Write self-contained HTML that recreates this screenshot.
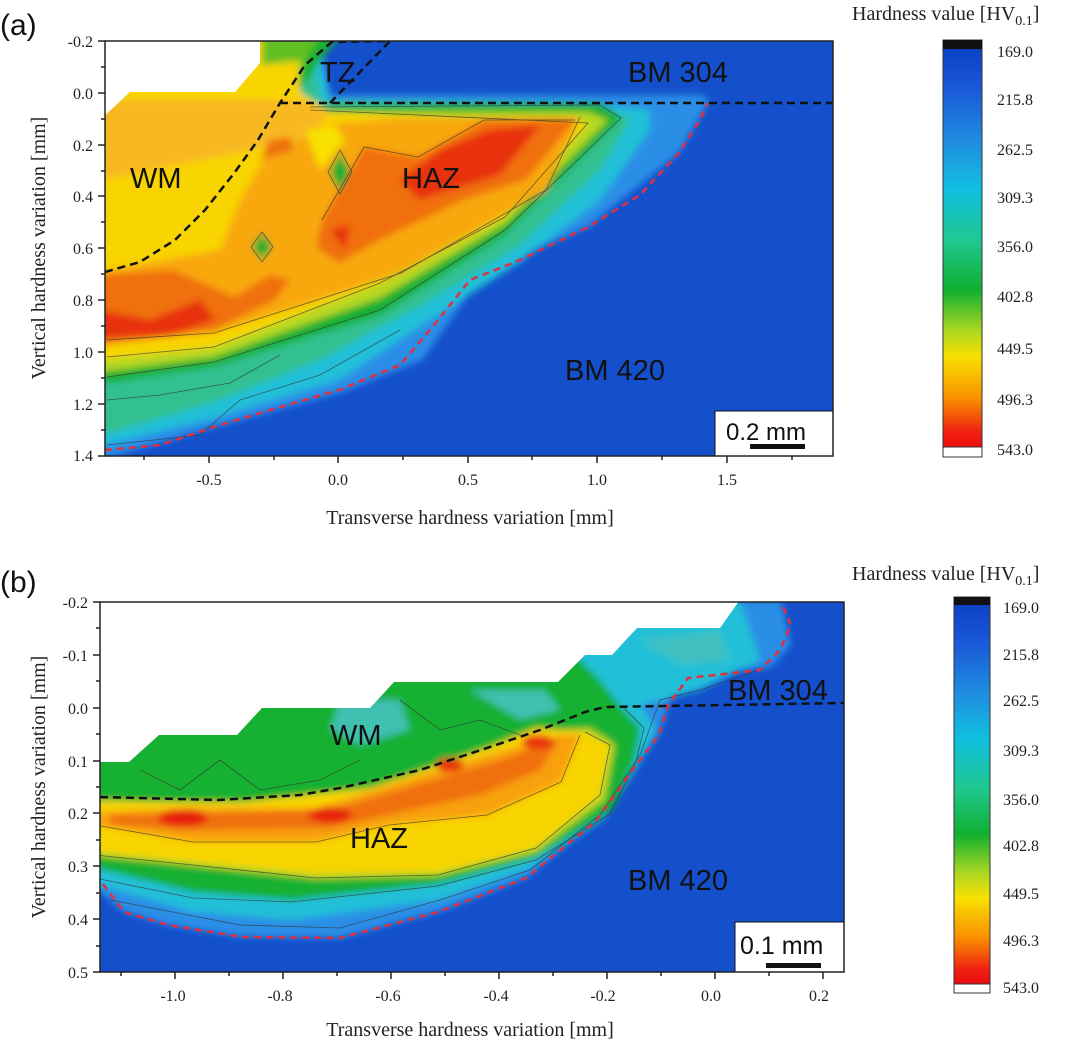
<!DOCTYPE html>
<html><head><meta charset="utf-8"><style>
html,body{margin:0;padding:0;background:#fff;width:1080px;height:1045px;overflow:hidden}
svg{display:block}
.t{font-family:"Liberation Serif",serif;font-size:16px;fill:#222}
.ax{font-family:"Liberation Serif",serif;font-size:20px;fill:#222}
.lb{font-family:"Liberation Sans",sans-serif;font-size:29px;fill:#111}
</style></head><body>
<svg width="1080" height="1045" viewBox="0 0 1080 1045" xmlns="http://www.w3.org/2000/svg">
<defs>
<filter id="bl" x="-5%" y="-5%" width="110%" height="110%"><feGaussianBlur stdDeviation="3.5"/></filter>
<clipPath id="ca"><rect x="105" y="41" width="728" height="415"/></clipPath>
<clipPath id="cb"><rect x="100" y="602" width="744" height="370"/></clipPath>
<linearGradient id="cg" x1="0" y1="0" x2="0" y2="1">
<stop offset="0" stop-color="#0a3cc0"/><stop offset="0.12" stop-color="#1a5ad8"/>
<stop offset="0.25" stop-color="#2090e0"/><stop offset="0.36" stop-color="#10c0e0"/>
<stop offset="0.48" stop-color="#20c890"/><stop offset="0.6" stop-color="#10b030"/>
<stop offset="0.7" stop-color="#b0d820"/><stop offset="0.76" stop-color="#f8e000"/>
<stop offset="0.86" stop-color="#f89000"/><stop offset="0.94" stop-color="#f02010"/>
<stop offset="1" stop-color="#e80010"/>
</linearGradient>
</defs>

<text x="0" y="35" style="font-family:'Liberation Sans',sans-serif;font-size:30px;fill:#111">(a)</text>
<text x="0" y="592" style="font-family:'Liberation Sans',sans-serif;font-size:30px;fill:#111">(b)</text>

<!-- PANEL A -->
<g clip-path="url(#ca)">
<rect x="105" y="41" width="728" height="415" fill="#1450cc"/>
<g filter="url(#bl)">
<polygon fill="#2c8ee6" points="100,460 214,427 339,393 422,360 484,273 588,227 679,153 708,103 705,95 330,95 320,30 100,30"/>
<polygon fill="#22c0d8" points="100,446 214,418 339,380 430,320 520,262 600,200 650,130 650,110 600,105 330,100 315,30 100,30"/>
<polygon fill="#30c090" points="100,436 214,402 320,360 430,300 520,245 600,170 630,120 600,103 320,100 310,30 100,30"/>
<polygon fill="#18b030" points="100,384 214,367 380,315 505,235 621,118 600,103 310,107 297,93 339,36 100,36"/>
<polygon fill="#b8d820" points="100,372 214,357 380,298 505,224 608,120 588,112 310,112 294,93 310,36 100,36"/>
<polygon fill="#f8d400" points="100,360 214,347 380,283 505,217 588,123 330,112 300,92 295,36 100,36"/>
<polygon fill="#f8a810" points="100,345 214,333 401,273 546,190 580,117 400,118 314,125 300,140 270,150 240,200 220,250 107,270 100,270"/>
<polygon fill="#f8b820" points="100,100 300,100 330,112 300,140 200,160 100,180"/>
<polygon fill="#f07010" points="322,220 364,147 418,157 484,120 575,120 526,180 463,200 380,240 339,263 316,247"/>
<polygon fill="#f07010" points="100,275 173,270 235,297 270,275 290,280 275,300 214,330 100,345"/>
<polygon fill="#e83010" points="440,150 490,130 540,125 500,175 450,190 420,200 400,180"/>
<polygon fill="#e83010" points="100,310 150,320 200,300 215,320 170,335 100,338"/>
<polygon fill="#f07010" points="270,140 290,137 294,150 260,160"/>
<polygon fill="#e83010" points="330,230 350,225 345,250"/>
<polygon fill="#1aae30" points="340,152 350,172 340,192 330,172"/>
<polygon fill="#1aae30" points="262,233 272,247 262,260 252,247"/>
<polygon fill="#f8e000" points="305,130 335,125 345,140 320,170"/>
<polygon fill="#60c020" points="262,36 320,36 305,60 262,65"/>
</g>
<g fill="none" stroke="#333" stroke-width="0.8" opacity="0.7">
<polyline points="107,377 214,362 380,310 505,230 621,118 600,105 310,107"/>
<polyline points="107,357 214,347 380,283 505,217 588,123 310,110"/>
<polyline points="107,340 214,333 401,273 546,190 580,117"/>
<polyline points="322,220 364,147 418,157 484,120 575,120"/>
<polyline points="107,400 160,395 230,383 280,355"/>
<polyline points="107,445 200,435 240,400 320,375 400,330"/>
<polygon points="340,150 352,172 340,194 328,172"/>
<polygon points="262,232 273,247 262,262 251,247"/>
</g>
<polygon fill="#fff" points="100,36 260,36 260,63 235,92 130,92 100,120"/>
<polyline fill="none" stroke="#111" stroke-width="2.5" stroke-dasharray="8,5" points="105,272 140,262 175,240 205,210 235,172 258,140 280,103 305,65 333,41"/>
<polyline fill="none" stroke="#111" stroke-width="2.5" stroke-dasharray="8,5" points="280,103 833,103"/>
<polyline fill="none" stroke="#111" stroke-width="2.5" stroke-dasharray="8,5" points="330,103 390,41 333,42"/>
<polyline fill="none" stroke="#e03040" stroke-width="2.5" stroke-dasharray="7,5" points="105,450 160,445 214,427 270,410 339,390 400,365 430,330 470,280 520,260 588,227 640,195 679,153 700,120 708,103"/>
<rect x="715" y="411" width="120" height="46" fill="#fff" stroke="#111" stroke-width="1"/>
<text x="726" y="440" style="font-family:'Liberation Sans',sans-serif;font-size:24px;fill:#111">0.2 mm</text>
<rect x="750" y="444" width="55" height="5" fill="#111"/>
</g>
<text class="lb" x="130" y="188">WM</text>
<text class="lb" x="402" y="188">HAZ</text>
<text class="lb" x="320" y="82">TZ</text>
<text class="lb" x="628" y="82">BM 304</text>
<text class="lb" x="565" y="380">BM 420</text>
<rect x="105" y="41" width="728" height="415" fill="none" stroke="#222" stroke-width="1.5"/>
<g stroke="#222" stroke-width="1.5">
<line x1="98" y1="41" x2="105" y2="41"/><line x1="98" y1="93" x2="105" y2="93"/><line x1="98" y1="145" x2="105" y2="145"/><line x1="98" y1="196" x2="105" y2="196"/><line x1="98" y1="248" x2="105" y2="248"/><line x1="98" y1="300" x2="105" y2="300"/><line x1="98" y1="352" x2="105" y2="352"/><line x1="98" y1="404" x2="105" y2="404"/><line x1="98" y1="456" x2="105" y2="456"/>
<line x1="101" y1="67" x2="105" y2="67"/><line x1="101" y1="119" x2="105" y2="119"/><line x1="101" y1="171" x2="105" y2="171"/><line x1="101" y1="222" x2="105" y2="222"/><line x1="101" y1="274" x2="105" y2="274"/><line x1="101" y1="326" x2="105" y2="326"/><line x1="101" y1="378" x2="105" y2="378"/><line x1="101" y1="430" x2="105" y2="430"/>
<line x1="209" y1="456" x2="209" y2="463"/><line x1="338" y1="456" x2="338" y2="463"/><line x1="468" y1="456" x2="468" y2="463"/><line x1="597" y1="456" x2="597" y2="463"/><line x1="727" y1="456" x2="727" y2="463"/>
<line x1="144" y1="456" x2="144" y2="460"/><line x1="274" y1="456" x2="274" y2="460"/><line x1="403" y1="456" x2="403" y2="460"/><line x1="532" y1="456" x2="532" y2="460"/><line x1="662" y1="456" x2="662" y2="460"/><line x1="792" y1="456" x2="792" y2="460"/>
</g>
<g class="t" text-anchor="end">
<text x="93" y="47">-0.2</text><text x="93" y="99">0.0</text><text x="93" y="151">0.2</text><text x="93" y="202">0.4</text><text x="93" y="254">0.6</text><text x="93" y="306">0.8</text><text x="93" y="358">1.0</text><text x="93" y="410">1.2</text><text x="93" y="461">1.4</text>
</g>
<g class="t" text-anchor="middle">
<text x="209" y="485">-0.5</text><text x="338" y="485">0.0</text><text x="468" y="485">0.5</text><text x="597" y="485">1.0</text><text x="727" y="485">1.5</text>
</g>
<text class="ax" x="470" y="524" text-anchor="middle">Transverse hardness variation [mm]</text>
<text class="ax" transform="translate(45,248) rotate(-90)" text-anchor="middle">Vertical hardness variation [mm]</text>

<!-- colorbar a -->
<text class="ax" x="852" y="20">Hardness value [HV<tspan font-size="14" dy="5">0.1</tspan><tspan dy="-5">]</tspan></text>
<rect x="943" y="40" width="39" height="417" fill="url(#cg)" stroke="#333" stroke-width="1"/>
<rect x="943" y="40" width="39" height="9" fill="#111"/>
<rect x="943" y="447" width="39" height="10" fill="#fff" stroke="#333" stroke-width="1"/>
<g class="t"><text x="997" y="57">169.0</text><text x="997" y="105">215.8</text><text x="997" y="155">262.5</text><text x="997" y="203">309.3</text><text x="997" y="252">356.0</text><text x="997" y="302">402.8</text><text x="997" y="354">449.5</text><text x="997" y="405">496.3</text><text x="997" y="455">543.0</text></g>

<!-- PANEL B -->
<g clip-path="url(#cb)">
<rect x="100" y="602" width="744" height="370" fill="#1450cc"/>
<g filter="url(#bl)">
<polygon fill="#2c8ee6" points="95,888 124,912 168,925 242,937 340,938 438,912 526,878 595,822 634,768 659,735 668,705 688,678 771,667 791,645 781,600 95,600"/>
<polygon fill="#22c0d8" points="95,884 193,912 291,920 438,900 530,868 605,818 640,762 655,728 640,705 700,690 760,660 740,600 95,600"/>
<polygon fill="#18b030" points="95,868 193,892 291,900 438,884 536,858 612,810 634,762 640,728 620,706 600,680 560,640 95,640"/>
<polygon fill="#40c0b0" points="340,700 400,700 410,730 360,745 330,730"/>
<polygon fill="#40c0c0" points="640,640 720,630 730,660 680,665"/>
<polygon fill="#40c0b0" points="470,690 520,720 560,710 545,690"/>
<polygon fill="#b8d820" points="95,800 242,804 370,790 487,750 536,732 590,728 615,745 605,800 536,852 438,876 316,879 193,866 95,856"/>
<polygon fill="#f8d400" points="95,802 242,802 370,788 487,748 536,728 585,732 610,745 600,795 536,848 438,872 316,874 193,862 95,852"/>
<polygon fill="#f8a010" points="95,812 193,808 316,808 399,782 487,755 561,735 580,735 561,782 487,815 389,825 316,842 193,842 95,825"/>
<polygon fill="#f07010" points="110,815 330,810 399,790 500,760 560,738 540,770 480,795 400,812 330,828 200,830 110,825"/>
<ellipse cx="183" cy="818" rx="25" ry="9" fill="#e82010"/>
<ellipse cx="330" cy="815" rx="22" ry="8" fill="#e82010"/>
<ellipse cx="450" cy="765" rx="14" ry="7" fill="#e83010"/>
<ellipse cx="538" cy="742" rx="16" ry="7" fill="#e83010"/>
</g>
<g fill="none" stroke="#333" stroke-width="0.8" opacity="0.7">
<polyline points="95,855 193,865 316,878 438,875 536,848 600,795 610,745 585,732"/>
<polyline points="95,825 193,842 316,842 389,825 487,815 561,782 580,735"/>
<polyline points="95,878 193,898 291,902 438,886 536,860 610,814 636,762 644,728 624,708"/>
<polyline points="110,900 240,925 340,928 440,900 530,870 600,815 640,755 660,700 700,690 760,670"/>
<polyline points="140,770 180,790 220,760 260,790 320,780 360,760"/>
<polyline points="400,700 440,730 480,720 520,735"/>
</g>
<polygon fill="#fff" points="95,597 742,597 720,628 637,628 612,655 585,655 558,682 394,682 370,708 262,708 237,735 159,735 129,762 95,762"/>
<polyline fill="none" stroke="#111" stroke-width="2.5" stroke-dasharray="8,5" points="100,797 218,800 300,795 340,788 420,770 487,748 540,730 585,712 605,707 844,703"/>
<polyline fill="none" stroke="#e03040" stroke-width="2.5" stroke-dasharray="7,5" points="103,884 124,912 168,925 242,937 340,938 438,912 526,878 595,822 634,768 659,735 668,705 688,678 760,670 780,650 791,625 781,602"/>
<rect x="735" y="922" width="112" height="52" fill="#fff" stroke="#111" stroke-width="1"/>
<text x="740" y="954" style="font-family:'Liberation Sans',sans-serif;font-size:25px;fill:#111">0.1 mm</text>
<rect x="766" y="963" width="55" height="5" fill="#111"/>
</g>
<text class="lb" x="330" y="745">WM</text>
<text class="lb" x="350" y="848">HAZ</text>
<text class="lb" x="728" y="700">BM 304</text>
<text class="lb" x="628" y="890">BM 420</text>
<rect x="100" y="602" width="744" height="370" fill="none" stroke="#222" stroke-width="1.5"/>
<g stroke="#222" stroke-width="1.5">
<line x1="93" y1="602" x2="100" y2="602"/><line x1="93" y1="655" x2="100" y2="655"/><line x1="93" y1="708" x2="100" y2="708"/><line x1="93" y1="761" x2="100" y2="761"/><line x1="93" y1="813" x2="100" y2="813"/><line x1="93" y1="866" x2="100" y2="866"/><line x1="93" y1="919" x2="100" y2="919"/><line x1="93" y1="972" x2="100" y2="972"/>
<line x1="96" y1="628" x2="100" y2="628"/><line x1="96" y1="681" x2="100" y2="681"/><line x1="96" y1="734" x2="100" y2="734"/><line x1="96" y1="787" x2="100" y2="787"/><line x1="96" y1="840" x2="100" y2="840"/><line x1="96" y1="893" x2="100" y2="893"/><line x1="96" y1="946" x2="100" y2="946"/>
<line x1="175" y1="972" x2="175" y2="979"/><line x1="283" y1="972" x2="283" y2="979"/><line x1="391" y1="972" x2="391" y2="979"/><line x1="499" y1="972" x2="499" y2="979"/><line x1="607" y1="972" x2="607" y2="979"/><line x1="715" y1="972" x2="715" y2="979"/><line x1="823" y1="972" x2="823" y2="979"/>
<line x1="121" y1="972" x2="121" y2="976"/><line x1="229" y1="972" x2="229" y2="976"/><line x1="337" y1="972" x2="337" y2="976"/><line x1="445" y1="972" x2="445" y2="976"/><line x1="553" y1="972" x2="553" y2="976"/><line x1="661" y1="972" x2="661" y2="976"/><line x1="769" y1="972" x2="769" y2="976"/>
</g>
<g class="t" text-anchor="end">
<text x="88" y="608">-0.2</text><text x="88" y="661">-0.1</text><text x="88" y="714">0.0</text><text x="88" y="767">0.1</text><text x="88" y="819">0.2</text><text x="88" y="872">0.3</text><text x="88" y="925">0.4</text><text x="88" y="978">0.5</text>
</g>
<g class="t" text-anchor="middle">
<text x="173" y="1001">-1.0</text><text x="280" y="1001">-0.8</text><text x="388" y="1001">-0.6</text><text x="496" y="1001">-0.4</text><text x="603" y="1001">-0.2</text><text x="711" y="1001">0.0</text><text x="819" y="1001">0.2</text>
</g>
<text class="ax" x="470" y="1036" text-anchor="middle">Transverse hardness variation [mm]</text>
<text class="ax" transform="translate(45,787) rotate(-90)" text-anchor="middle">Vertical hardness variation [mm]</text>

<!-- colorbar b -->
<text class="ax" x="852" y="580">Hardness value [HV<tspan font-size="14" dy="5">0.1</tspan><tspan dy="-5">]</tspan></text>
<rect x="954" y="597" width="36" height="396" fill="url(#cg)" stroke="#333" stroke-width="1"/>
<rect x="954" y="597" width="36" height="8" fill="#111"/>
<rect x="954" y="984" width="36" height="9" fill="#fff" stroke="#333" stroke-width="1"/>
<g class="t"><text x="1003" y="613">169.0</text><text x="1003" y="660">215.8</text><text x="1003" y="706">262.5</text><text x="1003" y="756">309.3</text><text x="1003" y="805">356.0</text><text x="1003" y="851">402.8</text><text x="1003" y="899">449.5</text><text x="1003" y="946">496.3</text><text x="1003" y="993">543.0</text></g>
</svg>
</body></html>
